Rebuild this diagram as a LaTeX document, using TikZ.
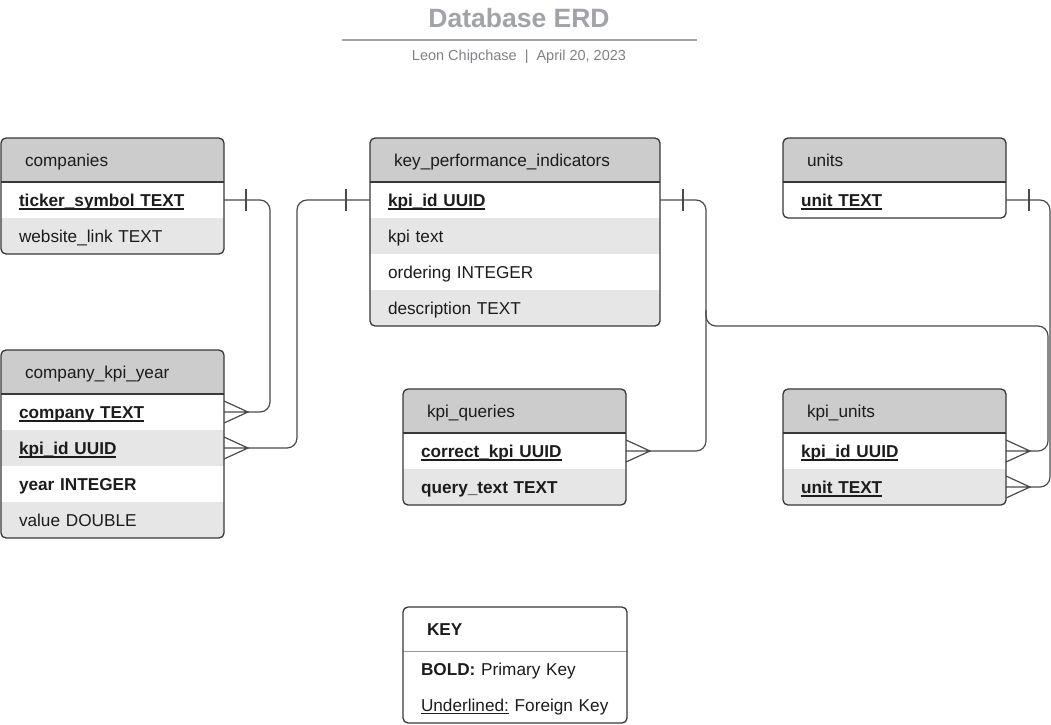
\documentclass[tikz,border=0pt]{standalone}
\usepackage{fontspec}
\setmainfont{Liberation Sans}
\usetikzlibrary{calc}

\definecolor{headgray}{HTML}{CCCCCC}
\definecolor{rowgray}{HTML}{E6E6E6}
\definecolor{edgegray}{HTML}{383838}
\definecolor{linkgray}{HTML}{4A4A4A}
\definecolor{titlegray}{HTML}{A0A3A8}
\definecolor{subgray}{HTML}{7F8185}
\definecolor{inkgray}{HTML}{1C1C1C}

% underline drawn at a fixed depth below the baseline
\newsavebox\ulbox
\newcommand\keyul[1]{\sbox\ulbox{#1}\rlap{\rule[-3.6pt]{\wd\ulbox}{1.9pt}}\usebox\ulbox}
\newcommand\thinul[1]{\sbox\ulbox{#1}\rlap{\rule[-3.2pt]{\wd\ulbox}{1.1pt}}\usebox\ulbox}

\tikzset{
  cellfont/.style={font=\fontsize{17.2}{20}\selectfont, text=inkgray,
    text height=14pt, text depth=2pt},
  headcell/.style={cellfont, anchor=north west, inner xsep=24pt, inner ysep=0pt,
    outer sep=0pt, minimum height=44pt, fill=headgray, align=left},
  rowcell/.style={cellfont, anchor=north west, inner xsep=18pt, inner ysep=0pt,
    outer sep=0pt, minimum height=36pt, align=left},
  tableedge/.style={draw=edgegray, line width=1.3pt},
  sepline/.style={draw=gray!80, line width=0.9pt},
  link/.style={draw=linkgray, line width=1.2pt, rounded corners=10pt},
  crowfoot/.pic={\draw[link, rounded corners=0pt] (0,-11) -- (24,0) -- (0,11) (0,0) -- (24,0);},
  onebar/.pic={\draw[link, rounded corners=0pt] (0,-11) -- (0,11);}
}

% #1 name, #2 x, #3 y, #4 width, #5 number of rows, #6 header, #7 rows
\newcommand\erdtable[7]{%
  \pgfmathsetmacro\erdhw{#4-48}%
  \pgfmathsetmacro\erdrw{#4-36}%
  \pgfmathsetmacro\erdht{44+36*#5}%
  \begin{scope}
    \clip[rounded corners=5pt] (#2,#3) rectangle ++(#4,\erdht);
    \node[headcell, minimum width=#4pt, text width=\erdhw pt] (#1-h) at (#2,#3) {#6};
    \foreach \t [count=\i] in {#7} {
      \ifodd\i\relax\def\erdfill{white}\else\def\erdfill{rowgray}\fi
      \node[rowcell, fill=\erdfill, minimum width=#4pt, text width=\erdrw pt]
        (#1-\i) at (#2,{#3+44+36*(\i-1)}) {\t};
    }
  \end{scope}
  \draw[tableedge, rounded corners=5pt] (#2,#3) rectangle ++(#4,\erdht);
  \draw[tableedge] (#2,#3+44) -- ++(#4,0);
}

\begin{document}
\begin{tikzpicture}[x=1pt, y=-1pt]
\useasboundingbox (0,0) rectangle (1051,724);

% heading
\node[anchor=base, font=\bfseries\fontsize{26.5}{30}\selectfont, text=titlegray]
  (title) at (519,27) {Database ERD};
\draw[draw=titlegray, line width=2pt] (342,39.5) -- (697,39.5);
\node[anchor=base, font=\fontsize{14.5}{17}\selectfont, text=subgray]
  (subtitle) at (519,60) {Leon Chipchase\hspace{8pt}|\hspace{8pt}April 20, 2023};

% tables
\erdtable{comp}{1}{138}{223}{2}{companies}
  {{\keyul{\textbf{ticker\_symbol TEXT}}}, {website\_link TEXT}}
\erdtable{kpi}{370}{138}{290}{4}{key\_performance\_indicators}
  {{\keyul{\textbf{kpi\_id UUID}}}, {kpi text}, {ordering INTEGER}, {description TEXT}}
\erdtable{units}{783}{138}{223}{1}{units}
  {{\keyul{\textbf{unit TEXT}}}}
\erdtable{ckpy}{1}{350}{223}{4}{company\_kpi\_year}
  {{\keyul{\textbf{company TEXT}}}, {\keyul{\textbf{kpi\_id UUID}}}, {\textbf{year INTEGER}}, {value DOUBLE}}
\erdtable{kq}{403}{389}{223}{2}{kpi\_queries}
  {{\keyul{\textbf{correct\_kpi UUID}}}, {\textbf{query\_text TEXT}}}
\erdtable{ku}{783}{389}{223}{2}{kpi\_units}
  {{\keyul{\textbf{kpi\_id UUID}}}, {\keyul{\textbf{unit TEXT}}}}

% legend
\node[headcell, fill=white, minimum width=224pt, text width=176pt, font=\bfseries\fontsize{17.2}{20}\selectfont]
  (key-h) at (403,607) {KEY};
\node[rowcell, minimum width=224pt, text width=188pt] (key-1) at (403,651) {\textbf{BOLD:} Primary Key};
\node[rowcell, minimum width=224pt, text width=188pt] (key-2) at (403,687) {\thinul{Underlined:} Foreign Key};
\draw[sepline] (key-h.south west) -- (key-h.south east);
\draw[tableedge, rounded corners=5pt] (key-h.north west) rectangle (key-2.south east);

% relationships
\draw[link] (comp-1.east) -- ++(46,0) |- ([xshift=24pt]ckpy-1.east);
\pic at ([xshift=22pt]comp-1.east) {onebar};
\pic at (ckpy-1.east) {crowfoot};

\draw[link] (kpi-1.west) -- ++(-73,0) |- ([xshift=24pt]ckpy-2.east);
\pic at ([xshift=-24pt]kpi-1.west) {onebar};
\pic at (ckpy-2.east) {crowfoot};

\coordinate (bus) at ([xshift=46pt]kpi-1.east);
\coordinate (branch) at (bus |- kpi-4.south);
\draw[link] (kpi-1.east) -- (bus) |- ([xshift=24pt]kq-1.east);
\pic at ([xshift=23pt]kpi-1.east) {onebar};
\pic at (kq-1.east) {crowfoot};

\draw[link] ([yshift=16pt]branch) -- (branch) -- ++(342,0) |- ([xshift=24pt]ku-1.east);
\pic at (ku-1.east) {crowfoot};

\draw[link] (units-1.east) -- ++(44,0) |- ([xshift=24pt]ku-2.east);
\pic at ([xshift=23pt]units-1.east) {onebar};
\pic at (ku-2.east) {crowfoot};
\end{tikzpicture}
\end{document}
